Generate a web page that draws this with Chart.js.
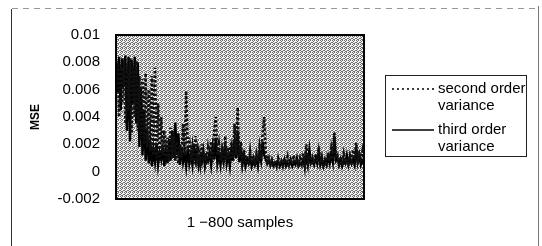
<!DOCTYPE html>
<html>
<head>
<meta charset="utf-8">
<script src="https://cdn.jsdelivr.net/npm/chart.js@4/dist/chart.umd.min.js"></script>
<style>
  html, body { margin: 0; padding: 0; background: #fff; }
  canvas { display: block; }
</style>
</head>
<body>
<canvas id="c" width="542" height="246"></canvas>
<script>
// ---- data (160 points covering samples 1–800) ----
const secondOrderVariance = [
  0.0065, 0.0080, 0.0040, 0.0078, 0.0050, 0.0082, 0.0035, 0.0079, 0.0045, 0.0083, 0.0028, 0.0078, 0.0040, 0.0081, 0.0030, 0.0070,
  0.0025, 0.0068, 0.0020, 0.0072, 0.0018, 0.0060, 0.0015, 0.0070, 0.0012, 0.0076, 0.0010, 0.0050, 0.0008, 0.0040, 0.0012, 0.0030,
  0.0009, 0.0025, 0.0007, 0.0032, 0.0010, 0.0028, 0.0008, 0.0022, 0.0006, 0.0020, 0.0010, 0.0035, 0.0012, 0.0059, 0.0015, 0.0025,
  0.0008, 0.0018, 0.0006, 0.0026, 0.0009, 0.0015, 0.0006, 0.0020, 0.0008, 0.0014, 0.0005, 0.0017, 0.0009, 0.0022, 0.0007, 0.0030,
  0.0040, 0.0012, 0.0020, 0.0008, 0.0015, 0.0006, 0.0026, 0.0009, 0.0018, 0.0007, 0.0022, 0.0010, 0.0035, 0.0012, 0.0047, 0.0010,
  0.0022, 0.0007, 0.0016, 0.0006, 0.0012, 0.0005, 0.0015, 0.0006, 0.0010, 0.0005, 0.0013, 0.0007, 0.0018, 0.0009, 0.0028, 0.0040,
  0.0015, 0.0007, 0.0010, 0.0005, 0.0009, 0.0006, 0.0008, 0.0004, 0.0010, 0.0006, 0.0008, 0.0004, 0.0009, 0.0006, 0.0011, 0.0005,
  0.0009, 0.0005, 0.0012, 0.0006, 0.0008, 0.0005, 0.0010, 0.0006, 0.0014, 0.0005, 0.0020, 0.0007, 0.0012, 0.0005, 0.0010, 0.0006,
  0.0013, 0.0007, 0.0018, 0.0006, 0.0011, 0.0005, 0.0009, 0.0006, 0.0014, 0.0008, 0.0017, 0.0009, 0.0029, 0.0010, 0.0012, 0.0006,
  0.0011, 0.0005, 0.0013, 0.0007, 0.0010, 0.0006, 0.0012, 0.0008, 0.0016, 0.0009, 0.0021, 0.0008, 0.0013, 0.0009, 0.0015, 0.0007
];
const thirdOrderVariance = [
  0.0082, 0.0058, 0.0084, 0.0045, 0.0083, 0.0062, 0.0085, 0.0030, 0.0084, 0.0022, 0.0082, 0.0050, 0.0084, 0.0035, 0.0080, 0.0018,
  0.0062, 0.0012, 0.0045, 0.0008, 0.0030, 0.0006, 0.0022, 0.0004, 0.0016, 0.0007, 0.0020, 0.0005, 0.0014, 0.0009, 0.0019, 0.0004,
  0.0015, 0.0006, 0.0024, 0.0008, 0.0030, 0.0010, 0.0036, 0.0012, 0.0028, 0.0005, 0.0018, 0.0007, 0.0014, 0.0004, 0.0017, 0.0006,
  0.0013, 0.0005, 0.0020, 0.0009, 0.0016, 0.0005, 0.0012, 0.0007, 0.0015, 0.0004, 0.0011, 0.0008, 0.0014, 0.0005, 0.0018, 0.0009,
  0.0025, 0.0006, 0.0013, 0.0005, 0.0016, 0.0008, 0.0020, 0.0006, 0.0012, 0.0004, 0.0017, 0.0008, 0.0024, 0.0010, 0.0030, 0.0007,
  0.0015, 0.0005, 0.0012, 0.0004, 0.0009, 0.0006, 0.0011, 0.0004, 0.0008, 0.0005, 0.0010, 0.0004, 0.0014, 0.0008, 0.0022, 0.0012,
  0.0009, 0.0006, 0.0008, 0.0005, 0.0007, 0.0004, 0.0006, 0.0005, 0.0008, 0.0004, 0.0007, 0.0005, 0.0009, 0.0004, 0.0006, 0.0005,
  0.0008, 0.0004, 0.0007, 0.0005, 0.0010, 0.0004, 0.0006, 0.0005, 0.0009, 0.0004, 0.0012, 0.0005, 0.0016, 0.0006, 0.0008, 0.0005,
  0.0010, 0.0006, 0.0015, 0.0005, 0.0009, 0.0004, 0.0008, 0.0005, 0.0011, 0.0006, 0.0013, 0.0007, 0.0026, 0.0008, 0.0010, 0.0005,
  0.0009, 0.0004, 0.0008, 0.0006, 0.0012, 0.0005, 0.0010, 0.0006, 0.0009, 0.0005, 0.0018, 0.0007, 0.0012, 0.0005, 0.0008, 0.0006
];
// sample index of each point (every 5th sample, 1..800)
const sampleLabels = secondOrderVariance.map((_, i) => i * 5 + 1);
const yTicks = [-0.002, 0, 0.002, 0.004, 0.006, 0.008, 0.01];
const seriesNames = ['second order variance', 'third order variance'];
const legendLines = [['second order', 'variance'], ['third order', 'variance']];
const xTitle = '1 \u2212800 samples';
const yTitle = 'MSE';

// ---- styling helpers ----
const FONT = '"Liberation Sans", Arial, Helvetica, sans-serif';

function makeDither() {
  // 4x4 halftone tile: scattered dark dots on light ground
  const p = document.createElement('canvas');
  p.width = 4; p.height = 4;
  const g = p.getContext('2d');
  g.fillStyle = '#f2f2f2'; g.fillRect(0, 0, 4, 4);
  g.fillStyle = '#6e6e6e';
  [[0,0],[2,0],[1,1],[3,2],[0,2],[2,3],[1,3]].forEach(([x, y]) => g.fillRect(x, y, 1, 1));
  return p;
}

const plotBackground = {
  id: 'plotBackground',
  beforeDraw(chart) {
    const { ctx, chartArea: a } = chart;
    ctx.save();
    ctx.fillStyle = ctx.createPattern(makeDither(), 'repeat');
    ctx.fillRect(a.left, a.top, a.right - a.left, a.bottom - a.top);
    ctx.restore();
  },
  afterDraw(chart) {
    const { ctx, chartArea: a } = chart;
    ctx.save();
    // plot border
    ctx.strokeStyle = '#000';
    ctx.lineWidth = 2;
    ctx.strokeRect(a.left, a.top, a.right - a.left, a.bottom - a.top);
    // outer chart frame (scanned look)
    ctx.lineWidth = 1;
    ctx.strokeStyle = '#333';
    ctx.beginPath(); ctx.moveTo(11.5, 9); ctx.lineTo(11.5, 246); ctx.stroke();
    ctx.strokeStyle = '#777';
    ctx.beginPath(); ctx.moveTo(538.5, 6); ctx.lineTo(538.5, 246); ctx.stroke();
    ctx.setLineDash([6, 5]);
    ctx.strokeStyle = '#999';
    ctx.beginPath(); ctx.moveTo(12, 8.5); ctx.lineTo(538, 8.5); ctx.stroke();
    ctx.setLineDash([]);

    // legend
    const bx = 385.5, by = 75.5, bw = 141, bh = 81;
    ctx.strokeStyle = '#222';
    ctx.lineWidth = 1;
    ctx.strokeRect(bx, by, bw, bh);
    ctx.font = '15px ' + FONT;
    ctx.fillStyle = '#000';
    ctx.textAlign = 'left';
    ctx.textBaseline = 'middle';
    const rows = [
      { y: 89, dash: [2, 3], w: 1.5, x2: 436 },
      { y: 130, dash: [], w: 1.5, x2: 434 }
    ];
    rows.forEach((r, i) => {
      ctx.save();
      ctx.strokeStyle = '#000';
      ctx.lineWidth = r.w;
      ctx.setLineDash(r.dash);
      ctx.beginPath(); ctx.moveTo(392, r.y); ctx.lineTo(r.x2, r.y); ctx.stroke();
      ctx.restore();
      legendLines[i].forEach((t, k) => ctx.fillText(t, 438, r.y + k * 17));
    });
    ctx.restore();
  }
};

new Chart(document.getElementById('c'), {
  type: 'line',
  data: {
    labels: sampleLabels,
    datasets: [
      {
        label: seriesNames[0],
        data: secondOrderVariance,
        borderColor: '#111',
        borderWidth: 2.6,
        borderDash: [2.5, 2],
        pointRadius: 0,
        tension: 0,
        fill: false
      },
      {
        label: seriesNames[1],
        data: thirdOrderVariance,
        borderColor: '#000',
        borderWidth: 2.4,
        pointRadius: 0,
        tension: 0,
        fill: false
      }
    ]
  },
  options: {
    responsive: false,
    animation: false,
    layout: { padding: { left: 28, right: 178, top: 35, bottom: 0 } },
    plugins: {
      legend: { display: false },
      tooltip: { enabled: false }
    },
    scales: {
      x: {
        type: 'category',
        offset: false,
        grid: { display: false, drawTicks: false },
        border: { display: false },
        ticks: { display: false },
        title: {
          display: true,
          text: xTitle,
          color: '#000',
          font: { family: FONT, size: 15 },
          padding: { top: 0, bottom: 14 }
        },
        afterFit(s) { s.height = 47; }
      },
      y: {
        min: -0.002,
        max: 0.01,
        grid: { display: false, drawTicks: false },
        border: { display: false },
        afterBuildTicks(s) { s.ticks = yTicks.map(v => ({ value: v })); },
        ticks: {
          color: '#000',
          padding: 16,
          font: { family: FONT, size: 15 },
          callback: v => String(v)
        },
        title: {
          display: true,
          text: yTitle,
          color: '#000',
          font: { family: FONT, size: 12, weight: 'bold' },
          padding: { top: 0, bottom: 0 }
        },
        afterFit(s) { s.width = 88; }
      }
    }
  },
  plugins: [plotBackground]
});
</script>
</body>
</html>
